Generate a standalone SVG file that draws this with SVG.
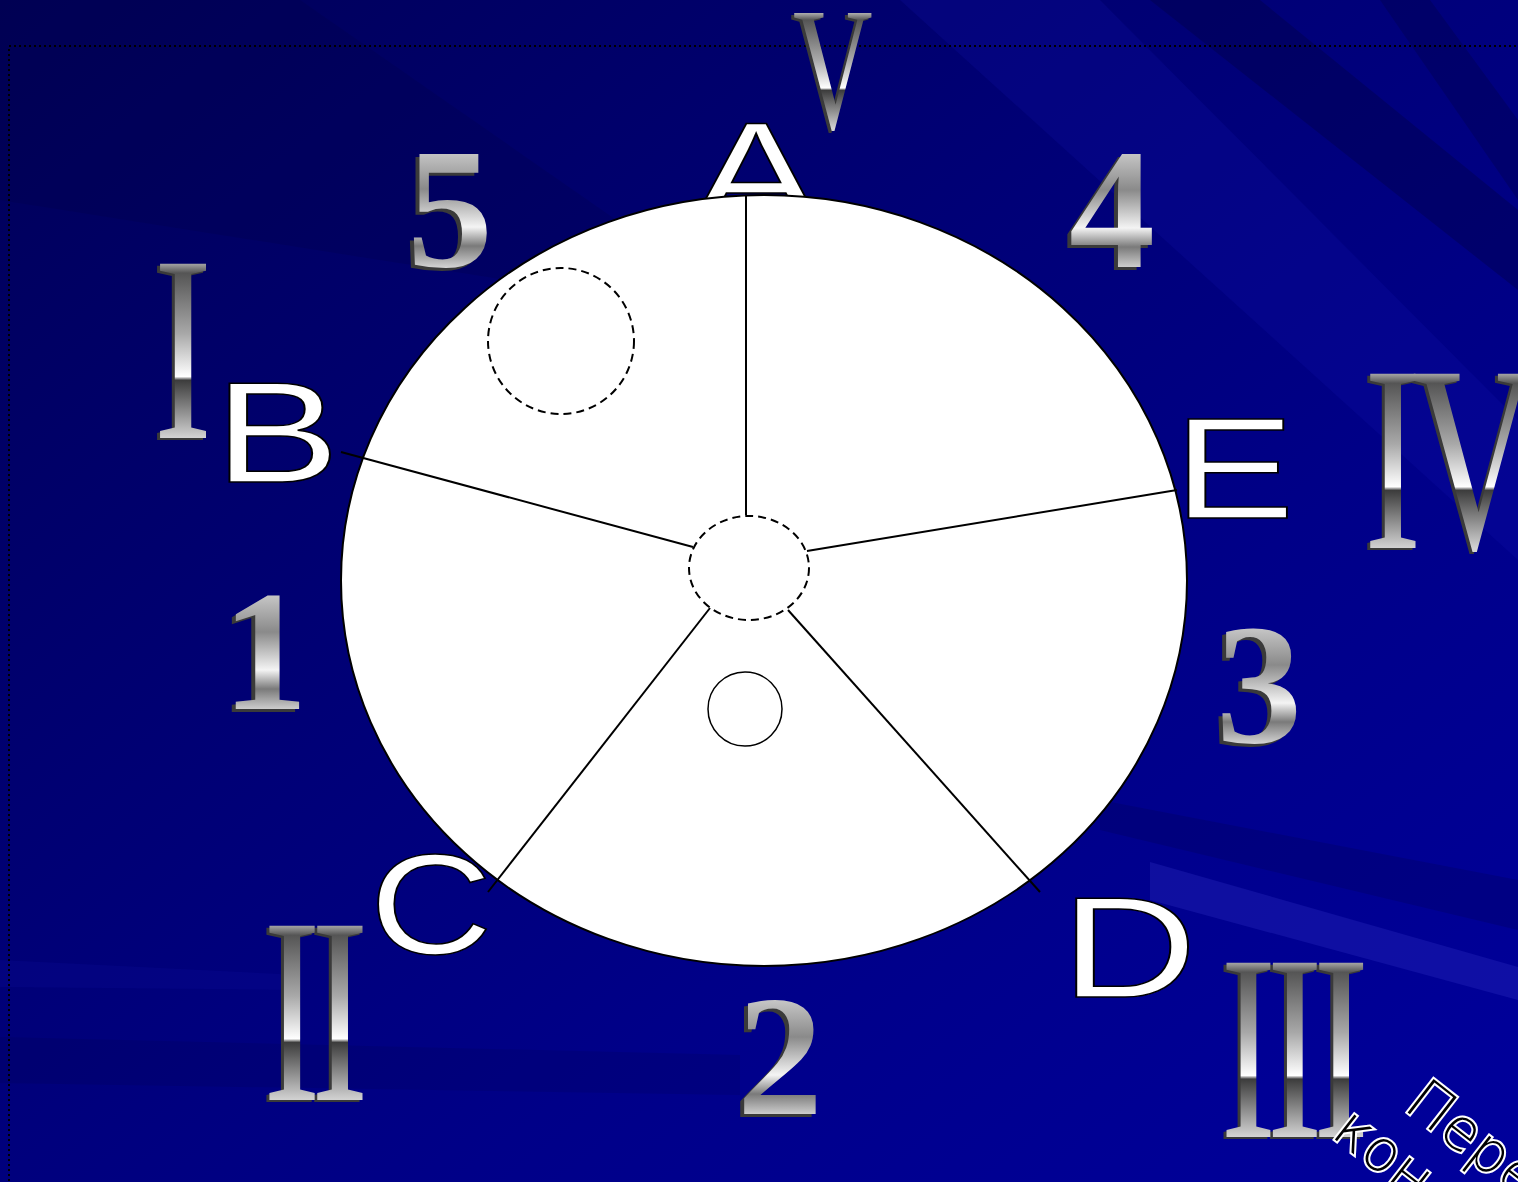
<svg xmlns="http://www.w3.org/2000/svg" width="1518" height="1182" viewBox="0 0 1518 1182">
  <defs>
    <linearGradient id="bg" x1="0" y1="0" x2="1" y2="1">
      <stop offset="0" stop-color="#000058"/>
      <stop offset="0.35" stop-color="#000072"/>
      <stop offset="0.65" stop-color="#000088"/>
      <stop offset="1" stop-color="#00009c"/>
    </linearGradient>
    <linearGradient id="silver" x1="0" y1="0" x2="0" y2="1">
      <stop offset="0.207" stop-color="#b4b4b4"/>
      <stop offset="0.245" stop-color="#555555"/>
      <stop offset="0.45" stop-color="#a8a8a8"/>
      <stop offset="0.596" stop-color="#ffffff"/>
      <stop offset="0.608" stop-color="#3c3c3c"/>
      <stop offset="0.805" stop-color="#d4d4d4"/>
    </linearGradient>
    <linearGradient id="silverd" x1="0" y1="0" x2="0" y2="1">
      <stop offset="0.2" stop-color="#c8c8c8"/>
      <stop offset="0.4" stop-color="#8a8a8a"/>
      <stop offset="0.6" stop-color="#f4f4f4"/>
      <stop offset="0.7" stop-color="#7a7a7a"/>
      <stop offset="0.82" stop-color="#d8d8d8"/>
    </linearGradient>
    <style>
      .roman { font-family: "Liberation Serif", "Times New Roman", serif; font-size: 266px; letter-spacing: -15px; text-anchor: middle; }
      .digit { font-family: "Liberation Serif", "Times New Roman", serif; font-weight: bold; font-size: 172px; text-anchor: middle; }
      .shadow { fill: #3a3a3a; }
      .metal { fill: url(#silver); }
      .metald { fill: url(#silverd); }
      .lbl { font-family: "Liberation Sans", Arial, sans-serif; font-size: 142px; fill: #ffffff; stroke: #000000; stroke-width: 1.5px; text-anchor: middle; }
      .spoke { stroke: #000000; stroke-width: 2; fill: none; }
      .dash { fill: none; stroke: #000000; stroke-width: 2; stroke-dasharray: 8 5; }
      .note { font-family: "DejaVu Sans", "Liberation Sans", sans-serif; font-weight: 200; font-size: 58px; fill: #000000; stroke: #ffffff; stroke-width: 4px; paint-order: stroke; }
    </style>
  </defs>

  <!-- background -->
  <rect x="0" y="0" width="1518" height="1182" fill="url(#bg)"/>
  <g id="streaks">
    <polygon points="1150,0 1260,0 1518,210 1518,290" fill="#000040" opacity="0.35"/>
    <polygon points="1380,0 1430,0 1518,120 1518,200" fill="#000040" opacity="0.3"/>
    <polygon points="900,0 1100,0 1518,420 1518,560" fill="#1818b8" opacity="0.18"/>
    <polygon points="1150,862 1518,967 1518,1000 1150,900" fill="#2a2ac0" opacity="0.35"/>
    <polygon points="1100,800 1518,880 1518,930 1100,830" fill="#000050" opacity="0.25"/>
    <polygon points="0,1037 740,1055 740,1095 0,1083" fill="#000040" opacity="0.15"/>
    <polygon points="0,960 300,975 300,990 0,987" fill="#1010a0" opacity="0.2"/>
    <polygon points="0,0 300,0 760,320 0,200" fill="#000040" opacity="0.2"/>
  </g>
  <rect x="9" y="46" width="1600" height="1200" fill="none" stroke="#000000" stroke-width="2" stroke-dasharray="2 3"/>

  <!-- roman numerals -->
  <g id="roman-V">
    <text class="roman shadow" style="font-size:175px" transform="translate(825,130) scale(0.63,1)">V</text>
    <text class="roman metal" style="font-size:175px" transform="translate(828,128) scale(0.63,1)">V</text>
  </g>
  <g id="roman-I">
    <text class="roman shadow" transform="translate(175,440) scale(0.66,1)">I</text>
    <text class="roman metal" transform="translate(178,438) scale(0.66,1)">I</text>
  </g>
  <g id="roman-IV">
    <text class="roman shadow" style="text-anchor:start" transform="translate(1361,550) scale(0.65,1)">IV</text>
    <text class="roman metal" style="text-anchor:start" transform="translate(1364,548) scale(0.65,1)">IV</text>
  </g>
  <g id="roman-II">
    <text class="roman shadow" transform="translate(308,1102) scale(0.65,1)">II</text>
    <text class="roman metal" transform="translate(311,1100) scale(0.65,1)">II</text>
  </g>
  <g id="roman-III">
    <text class="roman shadow" transform="translate(1287,1139) scale(0.63,1)">III</text>
    <text class="roman metal" transform="translate(1290,1137) scale(0.63,1)">III</text>
  </g>

  <!-- digits -->
  <g id="digit-5">
    <text class="digit shadow" x="446" y="269">5</text>
    <text class="digit metald" x="450" y="266">5</text>
  </g>
  <g id="digit-4">
    <text class="digit shadow" x="1108" y="270">4</text>
    <text class="digit metald" x="1112" y="267">4</text>
  </g>
  <g id="digit-1">
    <text class="digit shadow" x="261" y="712">1</text>
    <text class="digit metald" x="265" y="709">1</text>
  </g>
  <g id="digit-3">
    <text class="digit shadow" x="1255" y="745">3</text>
    <text class="digit metald" x="1259" y="742">3</text>
  </g>
  <g id="digit-2">
    <text class="digit shadow" x="776" y="1117">2</text>
    <text class="digit metald" x="780" y="1114">2</text>
  </g>

  <!-- label A sits partly behind the disc -->
  <g id="label-A">
    <text class="lbl" transform="translate(756,222) scale(1.33,1)">A</text>
  </g>

  <!-- disc -->
  <g id="disc">
    <ellipse cx="764" cy="580.5" rx="423" ry="385.5" fill="#ffffff" stroke="#000000" stroke-width="2"/>
  </g>
  <g id="circle-top-left">
    <circle class="dash" cx="561" cy="341" r="73"/>
  </g>
  <g id="circle-center">
    <ellipse class="dash" cx="749" cy="568" rx="60" ry="52"/>
  </g>
  <g id="circle-small">
    <circle cx="745" cy="709" r="37" fill="none" stroke="#000000" stroke-width="1.5"/>
  </g>

  <!-- spokes -->
  <g id="connectors">
    <line class="spoke" x1="746" y1="196" x2="746" y2="515"/>
    <line class="spoke" x1="341" y1="452" x2="693" y2="547"/>
    <line class="spoke" x1="1177" y1="490" x2="807" y2="551"/>
    <line class="spoke" x1="488" y1="892" x2="710" y2="608"/>
    <line class="spoke" x1="1040" y1="892" x2="788" y2="610"/>
  </g>

  <!-- labels -->
  <g id="label-B"><text class="lbl" transform="translate(277,482) scale(1.33,1)">B</text></g>
  <g id="label-E"><text class="lbl" transform="translate(1234,518) scale(1.28,1)">E</text></g>
  <g id="label-C"><text class="lbl" transform="translate(431,954) scale(1.2,1)">C</text></g>
  <g id="label-D"><text class="lbl" transform="translate(1129,997) scale(1.33,1)">D</text></g>

  <!-- rotated note, cut off by the frame -->
  <g id="note">
    <text class="note" transform="translate(1402,1108) rotate(38)"><tspan x="0" y="0">Пере</tspan><tspan x="-40" y="66">коно</tspan></text>
  </g>
</svg>
